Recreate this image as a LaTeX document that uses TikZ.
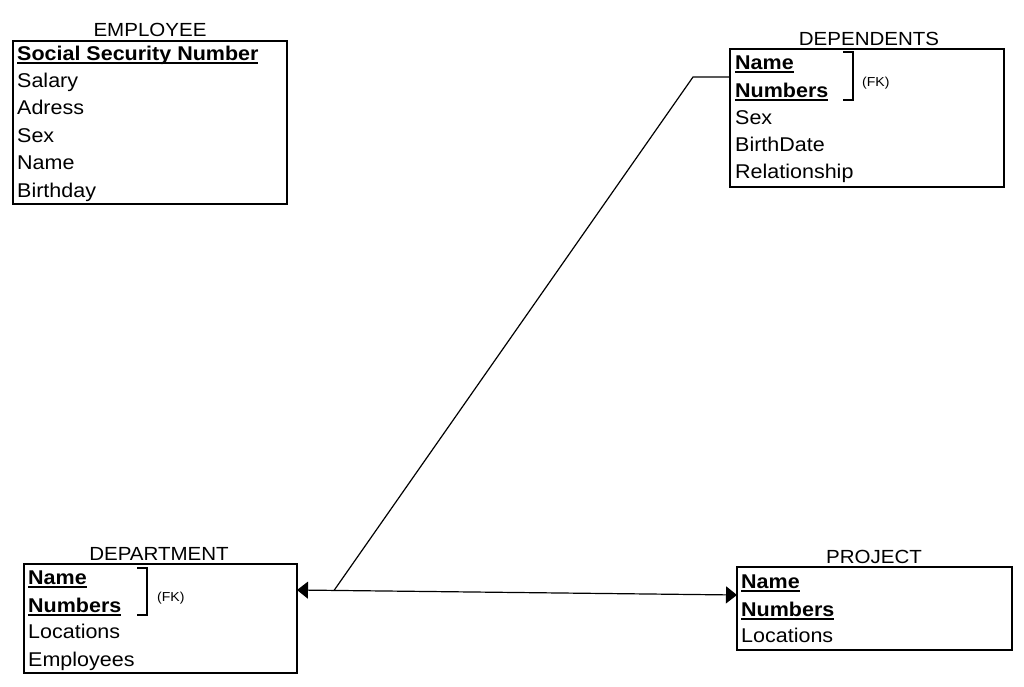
\documentclass[tikz,border=0pt]{standalone}
\usepackage{fontspec}
\setmainfont{Liberation Sans}[FakeStretch=1.08]
\usetikzlibrary{arrows.meta,positioning}

% primary key: bold with a thick underline
\newcommand{\pk}[1]{\setbox0\hbox{\bfseries #1}\rlap{\rule[-3.5pt]{\wd0}{1.6pt}}\box0}

\begin{document}
\begin{tikzpicture}[x=1pt,y=-1pt,
    entbox/.style={draw,line width=1.4pt,inner sep=0pt},
    enttitle/.style={anchor=base,inner sep=0pt,font=\fontsize{19}{22}\selectfont},
    attr/.style={anchor=base west,inner sep=0pt,font=\fontsize{19.9}{23}\selectfont},
    fk/.style={anchor=base west,inner sep=0pt,font=\fontsize{13}{15}\selectfont},
    link/.style={line width=1.2pt}]

\useasboundingbox (0,0) rectangle (1024,686);

% ---- row macro: \attrow{name}{x}{baseline}{text}
\newcommand{\attrow}[4]{
  \node[attr] (#1) at (#2,#3) {#4};
}

% EMPLOYEE
\node[entbox,minimum width=274pt,minimum height=163pt] (emp) at (150,122.5) {};
\node[enttitle] (empT) at (150,36) {EMPLOYEE};
\attrow{emp1}{17}{60}{\pk{Social Security Number}}
\attrow{emp2}{17}{87}{Salary}
\attrow{emp3}{17}{114}{Adress}
\attrow{emp4}{17}{142}{Sex}
\attrow{emp5}{17}{169}{Name}
\attrow{emp6}{17}{197}{Birthday}

% DEPENDENTS
\node[entbox,minimum width=274pt,minimum height=138pt] (dep) at (867,118) {};
\node[enttitle] (depT) at (869,45) {DEPENDENTS};
\attrow{dep1}{735}{69}{\pk{Name}}
\attrow{dep2}{735}{97}{\pk{Numbers}}
\attrow{dep3}{735}{124}{Sex}
\attrow{dep4}{735}{151}{BirthDate}
\attrow{dep5}{735}{178}{Relationship}
\draw[line width=1.2pt] (843,52) -- (853,52) -- (853,100) -- (843,100);
\node[fk] (depFK) at (862,86) {(FK)};

% DEPARTMENT
\node[entbox,minimum width=273pt,minimum height=109pt] (dept) at (160.5,618.5) {};
\node[enttitle] (deptT) at (159,560) {DEPARTMENT};
\attrow{dept1}{28}{584}{\pk{Name}}
\attrow{dept2}{28}{612}{\pk{Numbers}}
\attrow{dept3}{28}{638}{Locations}
\attrow{dept4}{28}{666}{Employees}
\draw[line width=1.2pt] (137,568) -- (147,568) -- (147,615) -- (137,615);
\node[fk] (deptFK) at (157,601) {(FK)};

% PROJECT
\node[entbox,minimum width=275pt,minimum height=83pt] (proj) at (874.5,608.5) {};
\node[enttitle] (projT) at (874,563) {PROJECT};
\attrow{proj1}{741}{588}{\pk{Name}}
\attrow{proj2}{741}{616}{\pk{Numbers}}
\attrow{proj3}{741}{642}{Locations}

% connectors
\coordinate (depIn) at (730,77);
\coordinate (bend) at (693,77);
\coordinate (deptIn) at (297,590);
\coordinate (projIn) at (737,595);
\coordinate (jn) at (334,590.5);

\draw[link] (depIn) -- (bend) -- (jn);
\draw[link,{Triangle[length=11pt,width=17pt]}-{Triangle[length=11pt,width=17pt]}] (deptIn) -- (projIn);

\end{tikzpicture}
\end{document}
